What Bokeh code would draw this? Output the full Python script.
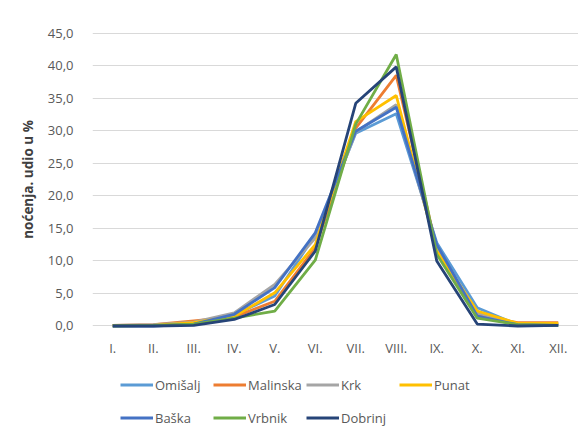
from bokeh.plotting import figure
from bokeh.models import Range1d, FixedTicker, Legend, LegendItem, FactorRange
from bokeh.layouts import column
from bokeh.embed import file_html
from bokeh.resources import INLINE

months = ["I.", "II.", "III.", "IV.", "V.", "VI.", "VII.", "VIII.", "IX.", "X.", "XI.", "XII."]
omisalj = [0.1, 0.1, 0.4, 1.7, 4.6, 14.0, 29.6, 32.6, 12.8, 2.8, 0.2, 0.2]
malinska = [0.1, 0.2, 0.8, 1.4, 3.8, 12.0, 30.4, 38.5, 11.8, 1.7, 0.5, 0.5]
krk = [0.1, 0.2, 0.6, 2.0, 6.4, 13.5, 29.8, 34.0, 12.0, 2.0, 0.3, 0.3]
punat = [0.1, 0.1, 0.5, 1.5, 5.1, 12.5, 31.4, 35.4, 11.5, 2.3, 0.4, 0.4]
baska = [0.0, 0.0, 0.3, 1.8, 5.9, 14.3, 29.9, 33.6, 12.5, 1.5, 0.2, 0.1]
vrbnik = [0.0, 0.1, 0.3, 1.2, 2.3, 10.1, 31.0, 41.7, 11.0, 1.2, 0.2, 0.1]
dobrinj = [0.0, 0.0, 0.1, 1.0, 3.3, 11.5, 34.2, 39.8, 10.0, 0.3, 0.0, 0.1]

series_names = ["Omišalj", "Malinska", "Krk", "Punat", "Baška", "Vrbnik", "Dobrinj"]
series_values = [omisalj, malinska, krk, punat, baska, vrbnik, dobrinj]
series_colors = ["#5B9BD5", "#ED7D31", "#A5A5A5", "#FFC000", "#4472C4", "#70AD47", "#264478"]

y_ticks = [0, 5, 10, 15, 20, 25, 30, 35, 40, 45]
y_tick_labels = ["0,0", "5,0", "10,0", "15,0", "20,0", "25,0", "30,0", "35,0", "40,0", "45,0"]

FONT = "Open Sans"
GREY = "#595959"
LINE_W = 2.8

xr = FactorRange(factors=months, range_padding=0)
p = figure(x_range=xr, y_range=Range1d(-1, 46),
           frame_width=486, frame_height=306,
           output_backend="svg", toolbar_location=None,
           min_border_left=92, min_border_right=0, min_border_top=26, min_border_bottom=36,
           background_fill_color="white", border_fill_color="white")
p.outline_line_color = None
p.xgrid.grid_line_color = None
p.ygrid.grid_line_color = "#D9D9D9"
p.ygrid.grid_line_width = 1
p.yaxis.ticker = FixedTicker(ticks=y_ticks)
p.yaxis.major_label_overrides = {t: l for t, l in zip(y_ticks, y_tick_labels)}

for ax in (p.xaxis[0], p.yaxis[0]):
    ax.axis_line_color = None
    ax.major_tick_line_color = None
    ax.minor_tick_line_color = None
    ax.major_label_text_font = FONT
    ax.major_label_text_font_size = "13px"
    ax.major_label_text_color = GREY
p.yaxis.major_label_standoff = 13
p.xaxis.major_label_standoff = 0
p.yaxis.axis_label = "noćenja. udio u %"
p.yaxis.axis_label_text_font = FONT
p.yaxis.axis_label_text_font_size = "13.5px"
p.yaxis.axis_label_text_font_style = "bold"
p.yaxis.axis_label_text_color = "#404040"
p.yaxis.axis_label_standoff = 8

for name, vals, col in zip(series_names, series_values, series_colors):
    p.line(months, vals, line_color=col, line_width=LINE_W)

# legend strip below the chart (its lines lie outside its visible range)
lg = figure(x_range=xr, y_range=Range1d(1000, 1001),
            frame_width=486, height=66, output_backend="svg", toolbar_location=None,
            x_axis_type=None, y_axis_type=None,
            min_border_left=92, min_border_right=0, min_border_top=0, min_border_bottom=0,
            background_fill_color="white", border_fill_color="white")
lg.outline_line_color = None
lg.grid.grid_line_color = None
leg_renderers = [lg.line(months, vals, line_color=col, line_width=LINE_W)
                 for vals, col in zip(series_values, series_colors)]

leg = Legend(items=[LegendItem(label=n, renderers=[r]) for n, r in zip(series_names, leg_renderers)],
             orientation="horizontal", ncols=4, location=(28, 0),
             glyph_width=33, glyph_height=33, label_height=33, label_standoff=2, label_width=58,
             spacing=0, padding=0, margin=0,
             label_text_font=FONT, label_text_font_size="13px", label_text_color=GREY,
             border_line_color=None, background_fill_alpha=0)
lg.add_layout(leg, "center")

open("out.html", "w").write(file_html(column(p, lg, spacing=0), INLINE))
